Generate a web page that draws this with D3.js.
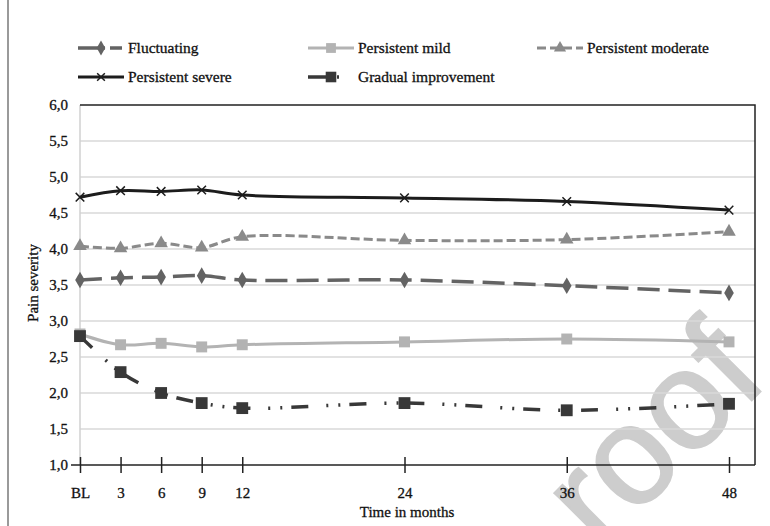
<!DOCTYPE html>
<html>
<head>
<meta charset="utf-8">
<script src="https://cdn.jsdelivr.net/npm/d3@7"></script>
<style>
  body { margin: 0; background: #fff; }
  text { font-family: "Liberation Serif", "Times New Roman", serif; fill: #111; stroke: #111; stroke-width: 0.3px; }
</style>
</head>
<body>
<div id="chart"></div>
<script>
// Data
const months = [0, 3, 6, 9, 12, 24, 36, 48];
const monthLabels = ["BL", "3", "6", "9", "12", "24", "36", "48"];
const fluctuating = [3.57, 3.60, 3.61, 3.63, 3.57, 3.57, 3.49, 3.39];
const persistentMild = [2.82, 2.67, 2.69, 2.64, 2.67, 2.71, 2.75, 2.71];
const persistentModerate = [4.04, 4.01, 4.08, 4.02, 4.17, 4.12, 4.13, 4.24];
const persistentSevere = [4.72, 4.81, 4.80, 4.82, 4.75, 4.71, 4.66, 4.54];
const gradualImprovement = [2.79, 2.29, 2.00, 1.86, 1.79, 1.86, 1.76, 1.85];
const yTicks = [1.0, 1.5, 2.0, 2.5, 3.0, 3.5, 4.0, 4.5, 5.0, 5.5, 6.0];

const width = 770, height = 526;

const svg = d3.select("#chart")
  .append("svg")
  .attr("width", width)
  .attr("height", height);

const x = d3.scaleLinear().domain([0, 48]).range([80, 729]);
const y = d3.scaleLinear().domain([1, 6]).range([465, 105]);
const plotRight = 755;

// watermark (behind everything)
svg.append("text")
  .attr("transform", "translate(600,552) rotate(-45)")
  .style("font-family", "'Liberation Sans', Arial, sans-serif")
  .style("font-size", "140px")
  .style("fill", "#cdcdcd")
  .style("stroke", "#cdcdcd")
  .style("stroke-width", "2px")
  .text("roof");

// page edge line on the left
svg.append("line")
  .attr("x1", 8).attr("x2", 8).attr("y1", 0).attr("y2", height)
  .attr("stroke", "#9a9a9a").attr("stroke-width", 2);

// gridlines
svg.append("g")
  .selectAll("line")
  .data(yTicks.slice(1, -1))
  .join("line")
  .attr("x1", x(0)).attr("x2", plotRight)
  .attr("y1", d => y(d)).attr("y2", d => y(d))
  .attr("stroke", "#d9d9d9").attr("stroke-width", 1.5);

// left (gray), top and right (black) frame
svg.append("line")
  .attr("x1", x(0)).attr("x2", x(0)).attr("y1", y(6)).attr("y2", y(1))
  .attr("stroke", "#d0d0d0").attr("stroke-width", 1.5);
svg.append("path")
  .attr("d", `M${x(0)},${y(6)}H${plotRight}V${y(1)}`)
  .attr("fill", "none").attr("stroke", "#222").attr("stroke-width", 1.5);

// y tick labels
svg.append("g")
  .selectAll("text")
  .data(yTicks)
  .join("text")
  .attr("x", 68)
  .attr("y", d => y(d))
  .attr("dy", "0.35em")
  .attr("text-anchor", "end")
  .style("font-size", "15px")
  .text(d => d.toFixed(1).replace(".", ","));

// x axis
const xAxis = d3.axisBottom(x)
  .tickValues(months)
  .tickFormat((d, i) => monthLabels[i])
  .tickSizeInner(8)
  .tickSizeOuter(0)
  .tickPadding(14);

const gx = svg.append("g")
  .attr("transform", `translate(0,${y(1)})`)
  .call(xAxis);
gx.select(".domain").remove();
gx.selectAll(".tick line")
  .attr("y1", -8).attr("y2", 8)
  .attr("stroke", "#222").attr("stroke-width", 1.5);
gx.selectAll(".tick text")
  .style("font-family", "'Liberation Serif', serif")
  .style("font-size", "15px")
  .attr("fill", "#111");
gx.append("line")
  .attr("x1", 71).attr("x2", plotRight)
  .attr("stroke", "#222").attr("stroke-width", 1.5);

// axis titles
svg.append("text")
  .attr("x", 407).attr("y", 517)
  .attr("text-anchor", "middle")
  .style("font-size", "15px")
  .text("Time in months");
svg.append("text")
  .attr("transform", "translate(38,283) rotate(-90)")
  .attr("text-anchor", "middle")
  .style("font-size", "15px")
  .text("Pain severity");

// series definitions
const series = [
  { name: "Fluctuating", values: fluctuating, color: "#636363", width: 3.5, dash: "22,9", marker: d3.symbolDiamond, size: 80, fill: true },
  { name: "Persistent mild", values: persistentMild, color: "#b3b3b3", width: 3, dash: null, marker: d3.symbolSquare, size: 120, fill: true },
  { name: "Persistent moderate", values: persistentModerate, color: "#8a8a8a", width: 3, dash: "9,4", marker: d3.symbolTriangle, size: 80, fill: true },
  { name: "Persistent severe", values: persistentSevere, color: "#1c1c1c", width: 3, dash: null, marker: d3.symbolX, size: 50, fill: false },
  { name: "Gradual improvement", values: gradualImprovement, color: "#383838", width: 3.5, dash: "17,18,2,10,2,9", marker: d3.symbolSquare, size: 140, fill: true }
];

const line = d3.line()
  .x((d, i) => x(months[i]))
  .y(d => y(d))
  .curve(d3.curveCatmullRom.alpha(0.5));

const drawOrder = [1, 4, 0, 2, 3];
drawOrder.forEach(k => {
  const s = series[k];
  const g = svg.append("g");
  g.append("path")
    .attr("d", line(s.values))
    .attr("fill", "none")
    .attr("stroke", s.color)
    .attr("stroke-width", s.width)
    .attr("stroke-dasharray", s.dash);
  g.selectAll("path.mk")
    .data(s.values)
    .join("path")
    .attr("class", "mk")
    .attr("transform", (d, i) => `translate(${x(months[i])},${y(d)})`)
    .attr("d", d3.symbol().type(s.marker).size(s.size))
    .attr("fill", s.fill ? s.color : "none")
    .attr("stroke", s.color)
    .attr("stroke-width", s.fill ? 0 : 1.5);
});

// legend
const legendPos = [
  { lx: 78, tx: 128, y: 48 },
  { lx: 308, tx: 358, y: 48 },
  { lx: 537, tx: 587, y: 48 },
  { lx: 78, tx: 128, y: 77 },
  { lx: 308, tx: 358, y: 77 }
];

const legend = svg.append("g");
series.forEach((s, k) => {
  const p = legendPos[k];
  const len = k === 4 ? 38 : 46;
  legend.append("line")
    .attr("x1", p.lx).attr("x2", p.lx + len)
    .attr("y1", p.y).attr("y2", p.y)
    .attr("stroke", s.color)
    .attr("stroke-width", s.width)
    .attr("stroke-dasharray", k === 4 ? "24,5,2,10" : (k === 0 ? "27,5,12" : s.dash));
  legend.append("path")
    .attr("transform", `translate(${p.lx + 23},${p.y})`)
    .attr("d", d3.symbol().type(s.marker).size(s.size * 0.8))
    .attr("fill", s.fill ? s.color : "none")
    .attr("stroke", s.color)
    .attr("stroke-width", s.fill ? 0 : 1.5);
  legend.append("text")
    .attr("x", p.tx).attr("y", p.y)
    .attr("dy", "0.35em")
    .style("font-size", "15.5px")
    .text(s.name);
});
</script>
</body>
</html>
